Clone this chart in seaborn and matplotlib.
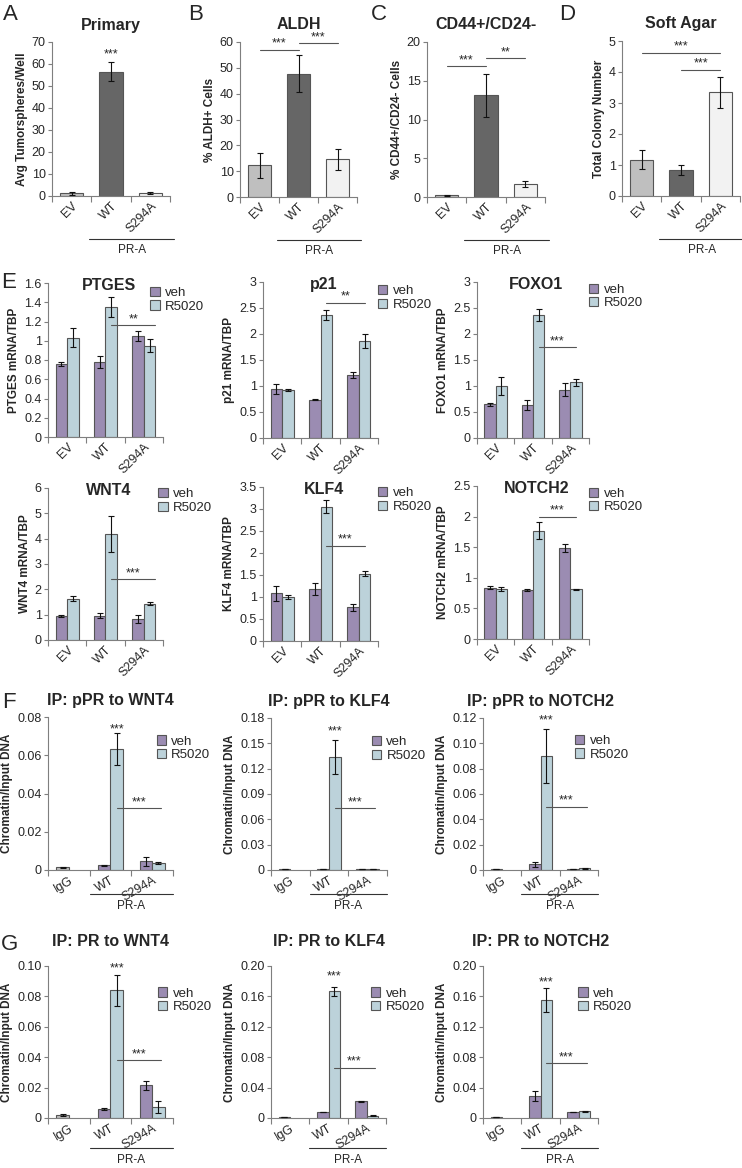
import numpy as np
import pandas as pd
import seaborn as sns
import matplotlib.pyplot as plt
from matplotlib.container import BarContainer
from matplotlib.ticker import FixedLocator, FuncFormatter

sns.set_style("ticks")
plt.rcParams["font.family"] = ["Liberation Sans", "DejaVu Sans"]

# ---------------- data ----------------
groups = ["EV", "WT", "S294A"]
chip_groups = ["IgG", "WT", "S294A"]
treatments = ["veh", "R5020"]

# A-D
primary = [1.2, 56.5, 1.2]
primary_err = [0.7, 4.2, 0.4]
aldh = [12.3, 47.7, 14.6]
aldh_err = [4.8, 7.2, 4.1]
cd44 = [0.22, 13.1, 1.65]
cd44_err = [0.08, 2.8, 0.4]
soft_agar = [1.17, 0.84, 3.34]
soft_agar_err = [0.3, 0.17, 0.51]

# E (mRNA/TBP)
ptges_veh = [0.76, 0.78, 1.05]
ptges_veh_err = [0.02, 0.06, 0.05]
ptges_r = [1.03, 1.35, 0.95]
ptges_r_err = [0.1, 0.1, 0.07]

p21_veh = [0.94, 0.74, 1.21]
p21_veh_err = [0.1, 0.01, 0.05]
p21_r = [0.92, 2.37, 1.87]
p21_r_err = [0.02, 0.1, 0.13]

foxo1_veh = [0.65, 0.63, 0.93]
foxo1_veh_err = [0.03, 0.1, 0.12]
foxo1_r = [1.0, 2.37, 1.07]
foxo1_r_err = [0.18, 0.12, 0.07]

wnt4_veh = [0.95, 0.95, 0.84]
wnt4_veh_err = [0.03, 0.1, 0.15]
wnt4_r = [1.62, 4.19, 1.44]
wnt4_r_err = [0.1, 0.7, 0.07]

klf4_veh = [1.08, 1.18, 0.77]
klf4_veh_err = [0.16, 0.13, 0.08]
klf4_r = [1.0, 3.05, 1.53]
klf4_r_err = [0.05, 0.15, 0.06]

notch2_veh = [0.84, 0.8, 1.49]
notch2_veh_err = [0.02, 0.01, 0.07]
notch2_r = [0.82, 1.77, 0.81]
notch2_r_err = [0.03, 0.14, 0.01]

# F (IP: pPR), IgG only has one bar
f_wnt4_veh = [0.0014, 0.0025, 0.0046]
f_wnt4_veh_err = [0.0004, 0.0003, 0.0024]
f_wnt4_r = [np.nan, 0.0632, 0.0038]
f_wnt4_r_err = [0, 0.0085, 0.0005]

f_klf4_veh = [0.0009, 0.0009, 0.0009]
f_klf4_veh_err = [0.0002, 0.0002, 0.0002]
f_klf4_r = [np.nan, 0.1334, 0.0009]
f_klf4_r_err = [0, 0.02, 0.0002]

f_notch2_veh = [0.0006, 0.0045, 0.0008]
f_notch2_veh_err = [0.0002, 0.002, 0.0003]
f_notch2_r = [np.nan, 0.09, 0.0012]
f_notch2_r_err = [0, 0.021, 0.0003]

# G (IP: PR)
g_wnt4_veh = [0.002, 0.006, 0.0215]
g_wnt4_veh_err = [0.0005, 0.0005, 0.003]
g_wnt4_r = [np.nan, 0.084, 0.007]
g_wnt4_r_err = [0, 0.01, 0.004]

g_klf4_veh = [0.0015, 0.008, 0.022]
g_klf4_veh_err = [0.0003, 0.0005, 0.001]
g_klf4_r = [np.nan, 0.167, 0.003]
g_klf4_r_err = [0, 0.006, 0.0005]

g_notch2_veh = [0.0015, 0.029, 0.008]
g_notch2_veh_err = [0.0003, 0.007, 0.0005]
g_notch2_r = [np.nan, 0.155, 0.009]
g_notch2_r_err = [0, 0.016, 0.0005]

# ---------------- style ----------------
GRAYS = ["#bfbfbf", "#666666", "#f2f2f2"]
VEH = "#9a86b8"
R5020 = "#b7d4df"
IGG = "#bfbfbf"
EDGE = "#555555"
SPINE = "#7f7f7f"

W, H = 742, 1168
fig = plt.figure(figsize=(W / 100, H / 100), dpi=100)


def make_ax(x0, x1, ytop, ybot):
    return fig.add_axes([x0 / W, 1 - ybot / H, (x1 - x0) / W, (ybot - ytop) / H])


fmt_g = FuncFormatter(lambda v, p: f"{v:g}")
fmt_2 = FuncFormatter(lambda v, p: "0" if v == 0 else f"{v:.2f}")


def style(ax, ymax, step, fmt, rot, ylabel):
    ax.set_ylim(0, ymax)
    ax.yaxis.set_major_locator(FixedLocator(np.round(np.arange(0, ymax + step / 2, step), 6)))
    ax.yaxis.set_major_formatter(fmt)
    ax.set_xlim(-0.5, 2.5)
    ax.set_xticks([-0.5, 0.5, 1.5, 2.5], minor=True)
    ax.tick_params(axis="x", which="major", length=0, labelsize=9, pad=3)
    ax.tick_params(axis="x", which="minor", length=4, width=0.8, color=SPINE)
    ax.tick_params(axis="y", length=3, width=0.8, color=SPINE, labelsize=9, pad=1.5)
    plt.setp(ax.get_xticklabels(), rotation=rot, ha="right", rotation_mode="anchor")
    sns.despine(ax=ax)
    for s in ax.spines.values():
        s.set_color(SPINE)
        s.set_linewidth(0.8)
    ax.set_xlabel("")
    ax.set_ylabel(ylabel, fontsize=8.5, fontweight="bold", labelpad=3)


def drawn_bars(ax):
    return [b for c in list(ax.containers) if isinstance(c, BarContainer)
            for b in c if b is not None]


def add_err(ax, lookup):
    # error bars on the bars seaborn drew (skip empty slots)
    for bar in drawn_bars(ax):
        h = bar.get_height()
        if not np.isfinite(h) or h == 0:
            continue
        cx = bar.get_x() + bar.get_width() / 2
        ax.errorbar(cx, h, yerr=lookup(cx), fmt="none", ecolor="#111111",
                    elinewidth=0.8, capsize=2.5, capthick=0.8, zorder=5)


def add_sigs(ax, sigs):
    for x0, x1, y, lab in sigs:
        if x0 != x1:
            ax.plot([x0, x1], [y, y], color="#555555", lw=0.8, clip_on=False)
        ax.text((x0 + x1) / 2, y, lab, ha="center", va="bottom", fontsize=9,
                clip_on=False)


def add_pra(ax, x0, x1, yline, ytext):
    tr = ax.get_xaxis_transform()
    ax.plot([x0, x1], [yline, yline], transform=tr, color="#333333", lw=0.8,
            clip_on=False)
    ax.text((x0 + x1) / 2, ytext, "PR-A", transform=tr, ha="center", va="center",
            fontsize=8.5)


def single_panel(ax, vals, errs, title, ylabel, ymax, step, sigs):
    df = pd.DataFrame({"group": groups, "value": vals})
    sns.barplot(data=df, x="group", y="value", hue="group", order=groups,
                hue_order=groups, palette=GRAYS, dodge=False, legend=False,
                width=0.6, errorbar=None, edgecolor=EDGE, linewidth=0.8, ax=ax)
    add_err(ax, lambda cx: errs[int(round(cx))])
    style(ax, ymax, step, fmt_g, 45, ylabel)
    ax.text(0.5, 1.11, title, transform=ax.transAxes, ha="center", va="center",
            fontsize=11.5, fontweight="bold")
    add_sigs(ax, sigs)
    add_pra(ax, 0.45, 2.6, -0.28, -0.35)


def grouped_panel(ax, cats, veh, veh_err, r, r_err, ymax, step, fmt, rot,
                  ylabel, sigs, leg_xy):
    df = pd.DataFrame({"group": cats * 2,
                       "treatment": ["veh"] * 3 + ["R5020"] * 3,
                       "value": list(veh) + list(r)})
    sns.barplot(data=df, x="group", y="value", hue="treatment", order=cats,
                hue_order=treatments, palette=[VEH, R5020], width=0.6, gap=0,
                errorbar=None, edgecolor=EDGE, linewidth=0.8, ax=ax)

    def lookup(cx):
        i = int(round(cx))
        return veh_err[i] if cx < i else r_err[i]

    if cats[0] == "IgG":
        for bar in drawn_bars(ax):
            if abs(bar.get_x() + bar.get_width() / 2) < 0.5:
                bar.set_facecolor(IGG)
    add_err(ax, lookup)
    style(ax, ymax, step, fmt, rot, ylabel)
    sns.move_legend(ax, "upper left", bbox_to_anchor=leg_xy, frameon=False,
                    title="", fontsize=9.5, handlelength=0.7, handleheight=0.7,
                    handletextpad=0.4, labelspacing=0.1, borderaxespad=0,
                    borderpad=0)
    add_sigs(ax, sigs)


# ---------------- A-D ----------------
ax = make_ax(52, 170, 42, 196)
single_panel(ax, primary, primary_err, "Primary", "Avg Tumorspheres/Well", 70, 10,
             [(1, 1, 61.5, "***")])
ax = make_ax(240, 357, 42, 197)
single_panel(ax, aldh, aldh_err, "ALDH", "% ALDH+ Cells", 60, 10,
             [(0, 1, 57, "***"), (1, 2, 59.5, "***")])
ax = make_ax(427, 545, 42, 197)
single_panel(ax, cd44, cd44_err, "CD44+/CD24-", "% CD44+/CD24- Cells", 20, 5,
             [(0, 1, 16.9, "***"), (1, 2, 17.9, "**")])
ax = make_ax(622, 740, 41, 196)
single_panel(ax, soft_agar, soft_agar_err, "Soft Agar", "Total Colony Number", 5, 1,
             [(0, 2, 4.62, "***"), (1, 2, 4.07, "***")])

# ---------------- E ----------------
e_panels = [
    ((48, 163, 283, 437), "PTGES", ptges_veh, ptges_veh_err, ptges_r, ptges_r_err,
     1.6, 0.2, [(1.15, 2.3, 1.16, "**")], (0.89, 0.975)),
    ((263, 378, 282, 438), "p21", p21_veh, p21_veh_err, p21_r, p21_r_err,
     3, 0.5, [(1.15, 2.15, 2.6, "**")], (1.0, 0.98)),
    ((477, 589, 282, 438), "FOXO1", foxo1_veh, foxo1_veh_err, foxo1_r, foxo1_r_err,
     3, 0.5, [(1.15, 2.15, 1.75, "***")], (1.0, 0.99)),
    ((48, 163, 488, 640), "WNT4", wnt4_veh, wnt4_veh_err, wnt4_r, wnt4_r_err,
     6, 1, [(1.15, 2.3, 2.4, "***")], (0.96, 1.0)),
    ((263, 378, 487, 641), "KLF4", klf4_veh, klf4_veh_err, klf4_r, klf4_r_err,
     3.5, 0.5, [(1.15, 2.15, 2.17, "***")], (1.0, 1.0)),
    ((477, 589, 486, 639), "NOTCH2", notch2_veh, notch2_veh_err, notch2_r, notch2_r_err,
     2.5, 0.5, [(1.15, 2.15, 2.0, "***")], (1.0, 0.99)),
]
for pos, name, v, ve, r, re, ymax, step, sigs, leg in e_panels:
    ax = make_ax(*pos)
    grouped_panel(ax, groups, v, ve, r, re, ymax, step, fmt_g, 45,
                  f"{name} mRNA/TBP", sigs, leg)
    ax.text(0.53, 0.985, name, transform=ax.transAxes, ha="center", va="center",
            fontsize=11.5, fontweight="bold")

# ---------------- F, G ----------------
chip_panels = [
    ((48, 173, 717, 870), "IP: pPR to WNT4", f_wnt4_veh, f_wnt4_veh_err, f_wnt4_r,
     f_wnt4_r_err, 0.08, 0.02,
     [(1.15, 1.15, 0.0705, "***"), (1.15, 2.2, 0.0323, "***")], (0.87, 0.88), 1.11,
     (-0.158, -0.237)),
    ((271, 387, 718, 870), "IP: pPR to KLF4", f_klf4_veh, f_klf4_veh_err, f_klf4_r,
     f_klf4_r_err, 0.18, 0.03,
     [(1.15, 1.15, 0.157, "***"), (1.15, 2.2, 0.073, "***")], (0.87, 0.88), 1.11,
     (-0.158, -0.237)),
    ((483, 598, 718, 870), "IP: pPR to NOTCH2", f_notch2_veh, f_notch2_veh_err,
     f_notch2_r, f_notch2_r_err, 0.12, 0.02,
     [(1.15, 1.15, 0.113, "***"), (1.15, 2.2, 0.05, "***")], (0.8, 0.89), 1.11,
     (-0.158, -0.237)),
    ((48, 173, 966, 1118), "IP: PR to WNT4", g_wnt4_veh, g_wnt4_veh_err, g_wnt4_r,
     g_wnt4_r_err, 0.10, 0.02,
     [(1.15, 1.15, 0.0945, "***"), (1.15, 2.2, 0.038, "***")], (0.88, 0.86), 1.16,
     (-0.2, -0.276)),
    ((271, 386, 966, 1118), "IP: PR to KLF4", g_klf4_veh, g_klf4_veh_err, g_klf4_r,
     g_klf4_r_err, 0.20, 0.04,
     [(1.15, 1.15, 0.178, "***"), (1.15, 2.2, 0.066, "***")], (0.87, 0.86), 1.16,
     (-0.2, -0.276)),
    ((483, 598, 966, 1118), "IP: PR to NOTCH2", g_notch2_veh, g_notch2_veh_err,
     g_notch2_r, g_notch2_r_err, 0.20, 0.04,
     [(1.15, 1.15, 0.171, "***"), (1.15, 2.2, 0.072, "***")], (0.83, 0.86), 1.16,
     (-0.2, -0.276)),
]
for pos, title, v, ve, r, re, ymax, step, sigs, leg, ty, pra in chip_panels:
    ax = make_ax(*pos)
    grouped_panel(ax, chip_groups, v, ve, r, re, ymax, step, fmt_2, 30,
                  "Chromatin/Input DNA", sigs, leg)
    ax.text(0.5, ty, title, transform=ax.transAxes, ha="center", va="center",
            fontsize=11.5, fontweight="bold")
    add_pra(ax, 0.5, 2.5, pra[0], pra[1])

# panel letters
for lab, x, y in [("A", 10, 15), ("B", 196, 15), ("C", 379, 15), ("D", 567, 15),
                  ("E", 9, 283), ("F", 9, 703), ("G", 9, 945)]:
    fig.text(x / W, 1 - y / H, lab, fontsize=16, ha="center", va="center")

fig.savefig("out.png", dpi=100)
